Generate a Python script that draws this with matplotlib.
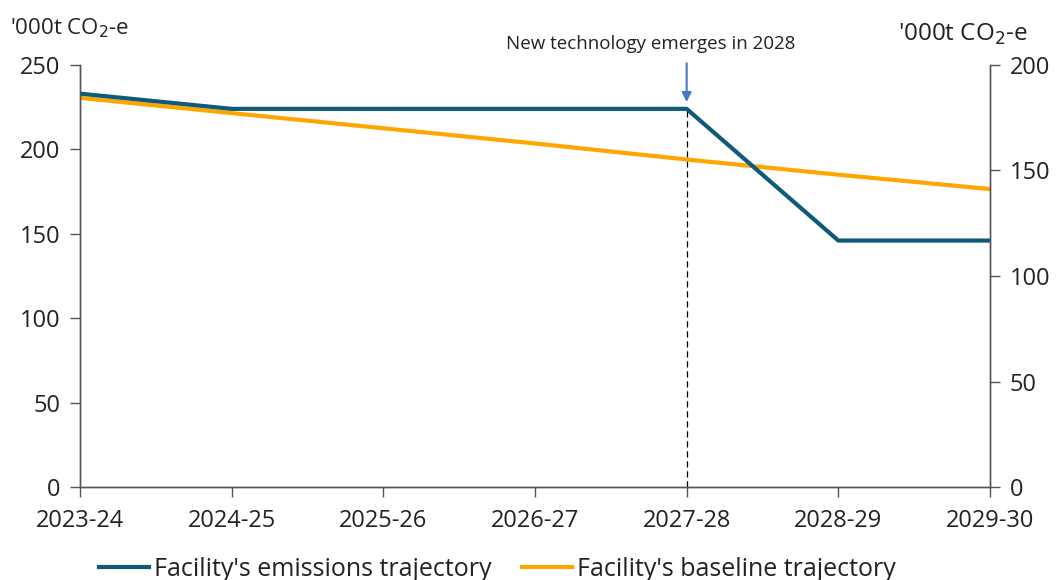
import matplotlib
matplotlib.use("Agg")
import matplotlib.pyplot as plt

categories = ["2023-24", "2024-25", "2025-26", "2026-27", "2027-28", "2028-29", "2029-30"]
emissions = [233, 224, 224, 224, 224, 146, 146]
baseline = [230.5, 221.5, 212.5, 203.5, 194, 185, 176.5]
left_ticks = [0, 50, 100, 150, 200, 250]
right_ticks = [0, 50, 100, 150, 200]
event_index = 4
event_label = "New technology emerges in 2028"

plt.rcParams['font.family'] = ['Open Sans', 'DejaVu Sans']

fig = plt.figure(figsize=(10.63, 5.8), dpi=100)
ax = fig.add_axes([0.0753, 0.1603, 0.856, 0.7277])
x = list(range(len(categories)))

l1, = ax.plot(x, emissions, color="#0E5A78", lw=3.0, label="Facility's emissions trajectory", zorder=3)
l2, = ax.plot(x, baseline, color="#FFA500", lw=3.0, label="Facility's baseline trajectory", zorder=2)

ax.vlines(event_index, 0, emissions[event_index], colors="black", linestyles=(0, (5, 3)), lw=0.9, zorder=1)
ax.annotate("", xy=(event_index, emissions[event_index] + 4), xytext=(event_index, 251),
            annotation_clip=False,
            arrowprops=dict(arrowstyle="-|>", color="#4A78C2", lw=1.5, mutation_scale=14,
                            shrinkA=0, shrinkB=0))
ax.text(event_index - 0.24, 257, event_label, ha="center", va="bottom", fontsize=13.5,
        color="#222222", clip_on=False)

ax.set_xlim(0, 6)
ax.set_ylim(0, 250)
ax.set_xticks(x)
ax.set_xticklabels(categories)
ax.set_yticks(left_ticks)

ax2 = ax.twinx()
ax2.set_ylim(0, 200)
ax2.set_yticks(right_ticks)

for a in (ax, ax2):
    a.spines['top'].set_visible(False)
    for s in a.spines.values():
        s.set_color("#555555")
        s.set_linewidth(1.0)
    a.tick_params(axis='both', labelsize=17, colors="#555555", labelcolor="#222222", length=7, width=1.0, direction='out')
ax.tick_params(axis='x', pad=9)
ax.tick_params(axis='y', pad=7)
ax2.tick_params(axis='y', pad=7)

fig.text(0.009, 0.952, "'000t CO$_2$-e", fontsize=16, color="#222222", ha="left", va="center")
fig.text(0.845, 0.94, "'000t CO$_2$-e", fontsize=17.5, color="#222222", ha="left", va="center")

fig.legend(handles=[l1, l2], loc="center", bbox_to_anchor=(0.468, 0.018), ncol=2, frameon=False,
           fontsize=18, handlelength=2.0, handletextpad=0.2, columnspacing=1.2, labelcolor="#222222")

fig.savefig("out.png", dpi=100)
